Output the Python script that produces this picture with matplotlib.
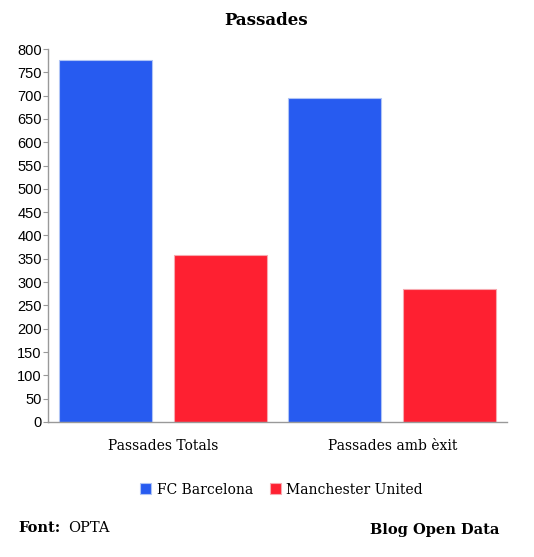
import matplotlib
matplotlib.use("Agg")
import matplotlib.pyplot as plt
import numpy as np

# data
categories = ["Passades Totals", "Passades amb èxit"]
series_names = ["FC Barcelona", "Manchester United"]
barcelona = [777, 696]
man_utd = [358, 285]

colors = ["#275BF0", "#FE2031"]
edges = ["#AFC4F5", "#F7A9B0"]
serif = "DejaVu Serif"

fig = plt.figure(figsize=(5.34, 5.57), dpi=100)
ax = fig.add_axes([0.0899, 0.2424, 0.8596, 0.6696])

x = np.arange(len(categories))
w = 0.405
ax.bar(x - 0.25, barcelona, w, color=colors[0], edgecolor=edges[0], linewidth=0.8,
       label=series_names[0])
ax.bar(x + 0.25, man_utd, w, color=colors[1], edgecolor=edges[1], linewidth=0.8,
       label=series_names[1])

ax.set_xlim(-0.5, 1.5)
ax.set_ylim(0, 800)
ax.set_yticks(np.arange(0, 801, 50))
ax.set_xticks(x)
ax.set_xticklabels(categories, fontfamily=serif, fontsize=10)
ax.tick_params(axis="x", length=0, pad=12)
ax.tick_params(axis="y", length=3.5, color="#999999", labelsize=10.5, pad=1)
for lab in ax.get_yticklabels():
    lab.set_fontfamily("Liberation Sans")

for s in ["top", "right"]:
    ax.spines[s].set_visible(False)
for s in ["left", "bottom"]:
    ax.spines[s].set_color("#999999")
    ax.spines[s].set_linewidth(1)

fig.text(0.498, 0.964, "Passades", ha="center", va="center", fontfamily=serif,
         fontsize=12, fontweight="bold")

leg = fig.legend(loc="center", bbox_to_anchor=(0.527, 0.121), ncol=2, frameon=False,
                 prop={"family": serif, "size": 10}, handlelength=0.8,
                 handleheight=0.8, handletextpad=0.4, columnspacing=1.2)

fig.text(0.034, 0.052, "Font:", ha="left", va="center", fontfamily=serif,
         fontsize=10.5, fontweight="bold")
fig.text(0.128, 0.052, "OPTA", ha="left", va="center", fontfamily=serif,
         fontsize=10.5)
fig.text(0.936, 0.048, "Blog Open Data", ha="right", va="center", fontfamily=serif,
         fontsize=10.5, fontweight="bold")

fig.savefig("out.png", dpi=100)
